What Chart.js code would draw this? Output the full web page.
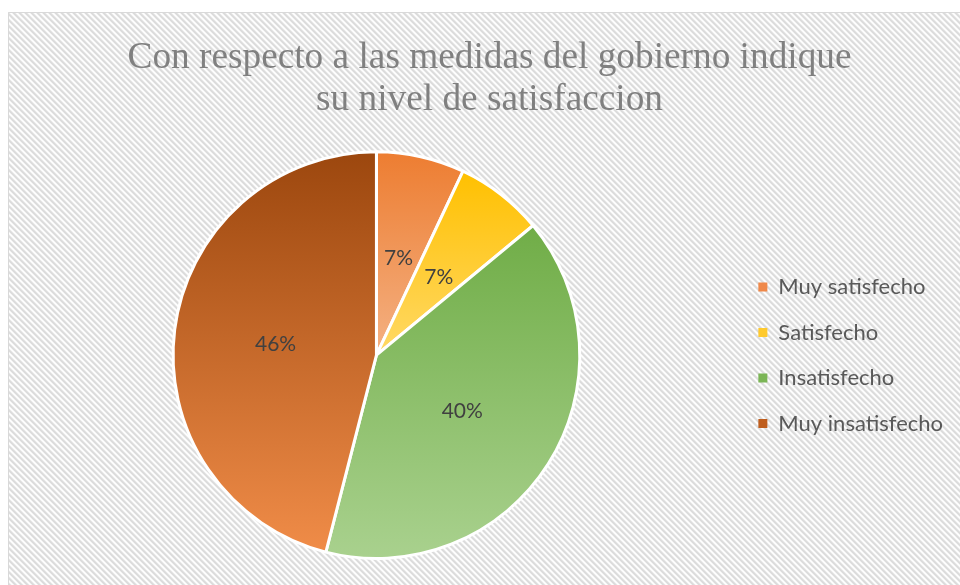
<!DOCTYPE html>
<html><head><meta charset="utf-8">
<script src="https://cdn.jsdelivr.net/npm/chart.js@4.4.1/dist/chart.umd.min.js"></script>
<style>html,body{margin:0;padding:0;background:#fff;} canvas{display:block;}</style>
</head><body>
<canvas id="c" width="960" height="585"></canvas>
<script>
const categories = ['Muy satisfecho', 'Satisfecho', 'Insatisfecho', 'Muy insatisfecho'];
const percentages = [7, 7, 40, 46];
const titleLines = ['Con respecto a las medidas del gobierno indique', 'su nivel de satisfaccion'];
const topColors = ['#ED7D31', '#FFC000', '#70AD47', '#9C470E'];
const bottomColors = ['#F4B183', '#FFD966', '#A9D18E', '#F08C48'];
const legendColors = ['#EF8849', '#FFCA2E', '#7BB556', '#BF5E1E'];

const bgPlugin = {
  id: 'bg',
  beforeDraw(chart) {
    const ctx = chart.ctx;
    ctx.save();
    ctx.fillStyle = '#fff';
    ctx.fillRect(0, 0, chart.width, chart.height);
    const n = 6;
    const t = document.createElement('canvas');
    t.width = n; t.height = n;
    const tc = t.getContext('2d');
    const img = tc.createImageData(n, n);
    const shades = [0xDC, 0xDC, 0xE6, 0xFA, 0xFF, 0xF2];
    for (let y = 0; y < n; y++) for (let x = 0; x < n; x++) {
      const k = (((x - y) % n) + n) % n;
      const v = shades[k];
      const p = (y * n + x) * 4;
      img.data[p] = v; img.data[p + 1] = v; img.data[p + 2] = v; img.data[p + 3] = 255;
    }
    tc.putImageData(img, 0, 0);
    ctx.fillStyle = ctx.createPattern(t, 'repeat');
    ctx.fillRect(8, 12, chart.width - 8, chart.height - 12);
    ctx.strokeStyle = '#D9D9D9';
    ctx.lineWidth = 1;
    ctx.beginPath();
    ctx.moveTo(8.5, chart.height);
    ctx.lineTo(8.5, 12.5);
    ctx.lineTo(chart.width, 12.5);
    ctx.stroke();
    ctx.restore();
  }
};

const titleShiftPlugin = {
  id: 'titleShift',
  afterLayout(chart) {
    if (chart.titleBlock) chart.titleBlock.left += 8;
  }
};

function arcGeom(arc) {
  return arc.getProps(['x', 'y', 'startAngle', 'endAngle', 'outerRadius'], true);
}

const gradPlugin = {
  id: 'grad',
  beforeDatasetsDraw(chart) {
    const ctx = chart.ctx;
    const meta = chart.getDatasetMeta(0);
    meta.data.forEach((arc, i) => {
      const g0 = arcGeom(arc);
      const ys = [g0.y, g0.y + g0.outerRadius * Math.sin(g0.startAngle), g0.y + g0.outerRadius * Math.sin(g0.endAngle)];
      [-Math.PI / 2, Math.PI / 2, 3 * Math.PI / 2].forEach(a => {
        if (a >= g0.startAngle && a <= g0.endAngle) ys.push(g0.y + g0.outerRadius * Math.sin(a));
      });
      const y0 = Math.min(...ys), y1 = Math.max(...ys);
      const g = ctx.createLinearGradient(0, y0, 0, y1);
      g.addColorStop(0, topColors[i]);
      g.addColorStop(1, bottomColors[i]);
      arc.options.backgroundColor = g;
    });
  }
};

const labelPlugin = {
  id: 'labels',
  afterDatasetsDraw(chart) {
    const ctx = chart.ctx;
    const meta = chart.getDatasetMeta(0);
    const total = percentages.reduce((a, b) => a + b, 0);
    ctx.save();
    ctx.font = '21px Lato';
    ctx.fillStyle = '#404040';
    ctx.textAlign = 'center';
    ctx.textBaseline = 'middle';
    meta.data.forEach((arc, i) => {
      const g0 = arcGeom(arc);
      const mid = (g0.startAngle + g0.endAngle) / 2;
      const r = g0.outerRadius * 0.5;
      ctx.fillText(Math.round(percentages[i] / total * 100) + '%', g0.x + r * Math.cos(mid), g0.y + r * Math.sin(mid) + 2);
    });
    ctx.restore();
  }
};

new Chart(document.getElementById('c'), {
  type: 'pie',
  data: {
    labels: categories,
    datasets: [{
      data: percentages,
      backgroundColor: legendColors,
      borderColor: '#FFFFFF',
      borderWidth: 3
    }]
  },
  options: {
    responsive: false,
    animation: false,
    events: [],
    layout: { padding: { left: 18, right: 7, top: 0, bottom: 25 } },
    plugins: {
      tooltip: { enabled: false },
      title: {
        display: true,
        text: titleLines,
        color: '#808080',
        font: { family: 'Liberation Serif', size: 37.3, weight: 'normal', lineHeight: 1.13 },
        padding: { top: 37, bottom: 29 }
      },
      legend: {
        position: 'right',
        title: { display: true, text: '', font: { size: 10, lineHeight: 1 }, padding: { top: 140.5, bottom: 0 } },
        labels: {
          boxWidth: 9,
          boxHeight: 9,
          padding: 23.5,
          color: '#595959',
          font: { family: 'Lato', size: 22 },
          generateLabels() {
            return categories.map((t, i) => ({
              text: t, fillStyle: legendColors[i], strokeStyle: legendColors[i],
              lineWidth: 0, hidden: false, index: i, fontColor: '#595959'
            }));
          }
        }
      }
    }
  },
  plugins: [bgPlugin, titleShiftPlugin, gradPlugin, labelPlugin]
});
</script>
</body></html>
